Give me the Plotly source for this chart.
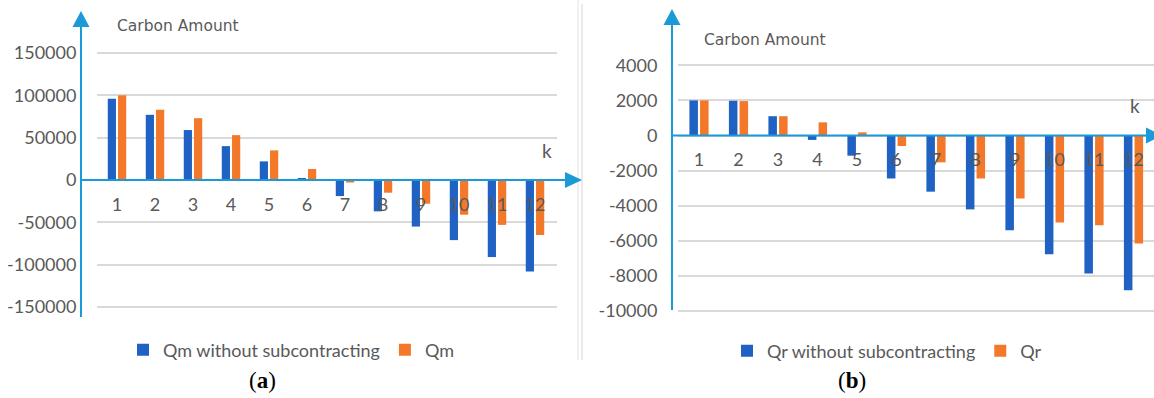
import plotly.graph_objects as go

# ---- data ----
periods = list(range(1, 13))

qm_without_sub = [96000, 77000, 59000, 40000, 22000, 2000,
                  -19000, -37000, -55000, -71000, -91000, -108000]
qm = [100000, 83000, 73000, 53000, 35000, 13000,
      -3000, -15000, -28000, -41000, -53000, -65000]

qr_without_sub = [2000, 1980, 1100, -250, -1150, -2450,
                  -3200, -4210, -5400, -6770, -7870, -8820]
qr = [2000, 1960, 1100, 750, 180, -600,
      -1530, -2450, -3590, -4960, -5110, -6150]

yticks_a = [-150000, -100000, -50000, 0, 50000, 100000, 150000]
yticks_b = [-10000, -8000, -6000, -4000, -2000, 0, 2000, 4000]

# ---- styling ----
W, H = 1154, 398
BLUE = "#1f62c4"
ORANGE = "#f4782a"
AXIS = "#1b9ad8"
GRID = "#d9d9d9"
TXT = "#595959"
FONT = "Lato"


def px(x):
    return x / W


def py(y):
    return 1 - y / H


# pixel row of the zero line and scale (px per unit) for each panel
zero_a, scale_a = 180.0, (307 - 53) / 300000
zero_b, scale_b = 135.5, (310.7 - 65) / 14000
yr_a = [-(H - zero_a) / scale_a, zero_a / scale_a]
yr_b = [-(H - zero_b) / scale_b, zero_b / scale_b]

fig = go.Figure()
fig.add_trace(go.Bar(x=periods, y=qm_without_sub, name="Qm without subcontracting",
                     marker=dict(color=BLUE, line=dict(width=0)),
                     xaxis="x", yaxis="y", legend="legend"))
fig.add_trace(go.Bar(x=periods, y=qm, name="Qm",
                     marker=dict(color=ORANGE, line=dict(width=0)),
                     xaxis="x", yaxis="y", legend="legend"))
fig.add_trace(go.Bar(x=periods, y=qr_without_sub, name="Qr without subcontracting",
                     marker=dict(color=BLUE, line=dict(width=0)),
                     xaxis="x2", yaxis="y2", legend="legend2"))
fig.add_trace(go.Bar(x=periods, y=qr, name="Qr",
                     marker=dict(color=ORANGE, line=dict(width=0)),
                     xaxis="x2", yaxis="y2", legend="legend2"))

tick_font = dict(family=FONT, size=18, color=TXT)


def xaxis(domain, first_px, step_px, yr):
    left = 1 - (first_px - domain[0]) / step_px
    right = left + (domain[1] - domain[0]) / step_px
    return dict(domain=[px(domain[0]), px(domain[1])], range=[left, right],
                anchor="free", position=(0 - yr[0]) / (yr[1] - yr[0]),
                tickvals=periods, ticktext=[str(p) for p in periods],
                ticks="outside", ticklen=8, tickcolor="rgba(0,0,0,0)",
                showgrid=False, showline=False, zeroline=False,
                tickfont=tick_font, fixedrange=True)


def yaxis(xa, yr, ticks, standoff):
    return dict(domain=[0, 1], range=yr, anchor=xa,
                tickvals=ticks, ticktext=[str(t) for t in ticks],
                ticks="outside", ticklen=standoff, tickcolor="rgba(0,0,0,0)",
                showgrid=True, gridcolor=GRID, gridwidth=1.5,
                showline=False, zeroline=False, tickfont=tick_font,
                fixedrange=True)


shapes = []


def hline(x0, x1, y, color, width):
    shapes.append(dict(type="line", xref="paper", yref="paper",
                       x0=px(x0), x1=px(x1), y0=py(y), y1=py(y),
                       line=dict(color=color, width=width)))


def vline(x, y0, y1, color, width):
    shapes.append(dict(type="line", xref="paper", yref="paper",
                       x0=px(x), x1=px(x), y0=py(y0), y1=py(y1),
                       line=dict(color=color, width=width)))


def tri(pts, color):
    d = "M " + " L ".join(f"{px(a):.5f},{py(b):.5f}" for a, b in pts) + " Z"
    shapes.append(dict(type="path", xref="paper", yref="paper", path=d,
                       fillcolor=color, line=dict(width=0)))


def blank(x0, x1, y0, y1):
    # white patch between the gridlines and the bars, behind the "k" label
    shapes.append(dict(type="rect", xref="paper", yref="paper", layer="between",
                       x0=px(x0), x1=px(x1), y0=py(y1), y1=py(y0),
                       fillcolor="white", line=dict(width=0)))


# frame separators between the two charts
vline(578, 0, 360, "#e2e2e2", 1)
vline(582, 4, 360, "#d6d6d6", 1)

# gaps in the gridlines around the "k" labels
blank(520, 578, 130, 172)
blank(1110, 1154, 88, 126)

# panel (a) axes with arrowheads
vline(81, 24, 317, AXIS, 2)
tri([(81, 11), (72.5, 27), (89.5, 27)], AXIS)
hline(81, 568, zero_a, AXIS, 2)
tri([(582, zero_a), (565, zero_a - 8), (565, zero_a + 8)], AXIS)

# panel (b) axes with arrowheads
vline(672, 22, 310, AXIS, 2)
tri([(672, 9), (663.5, 25), (680.5, 25)], AXIS)
hline(672, 1150, zero_b, AXIS, 2)
tri([(1162, zero_b), (1146, zero_b - 8), (1146, zero_b + 8)], AXIS)


def label(text, x, y, font):
    return dict(text=text, x=px(x), y=py(y), xref="paper", yref="paper",
                xanchor="center", yanchor="middle", showarrow=False, font=font)


title_font = dict(family="DejaVu Sans", size=15.5, color=TXT)
k_font = dict(family=FONT, size=19, color=TXT)
cap_font = dict(family="Liberation Serif", size=23, color="black")

annotations = [
    label("Carbon Amount", 178, 26, title_font),
    label("Carbon Amount", 765, 40, title_font),
    label("k", 547, 150, k_font),
    label("k", 1135, 106, k_font),
    label("(<b>a</b>)", 262, 380, cap_font),
    label("(<b>b</b>)", 852, 380, cap_font),
]

legend_style = dict(orientation="h", xanchor="center", yanchor="middle",
                    font=dict(family=FONT, size=18, color=TXT),
                    bgcolor="rgba(0,0,0,0)", itemclick=False,
                    itemdoubleclick=False)

fig.update_layout(
    width=W, height=H,
    margin=dict(l=0, r=0, t=0, b=0),
    paper_bgcolor="white", plot_bgcolor="white",
    barmode="group", bargap=0.46, bargroupgap=0.2,
    xaxis=xaxis((97, 557), 117, 38, yr_a),
    yaxis=yaxis("x", yr_a, yticks_a, 16),
    xaxis2=xaxis((678, 1154), 699, 39.5, yr_b),
    yaxis2=yaxis("x2", yr_b, yticks_b, 16),
    legend=dict(x=px(291), y=py(350), **legend_style),
    legend2=dict(x=px(887), y=py(351), **legend_style),
    shapes=shapes,
    annotations=annotations,
    showlegend=True,
)

fig.write_html("out.html")
